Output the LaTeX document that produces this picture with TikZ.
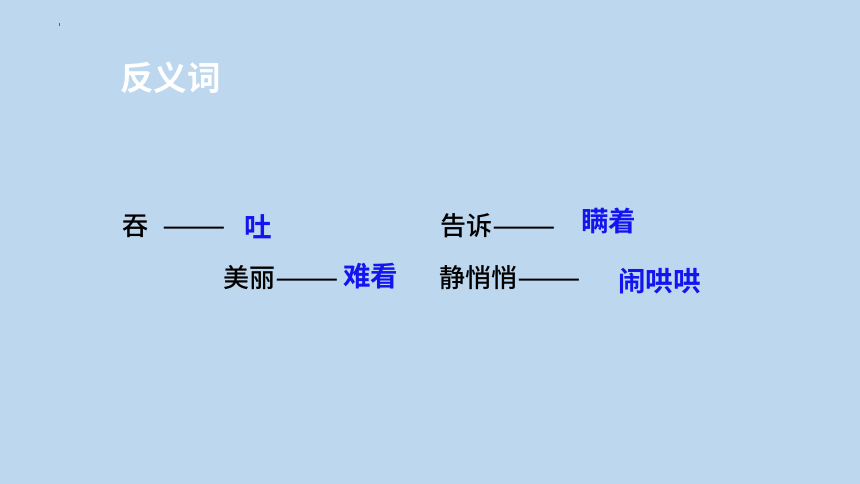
\documentclass[tikz,border=0pt]{standalone}
\usepackage{fontspec}
\newfontfamily\cjk{Noto Sans CJK SC}[BoldFont={Noto Sans CJK SC Bold}]
\newfontfamily\cjkm{Noto Sans CJK SC Medium}
\definecolor{bg}{HTML}{BDD7EE}
\definecolor{ans}{RGB}{20,20,240}
\newcommand{\ldash}{\scalebox{1.45}[1]{——}}
\begin{document}
\begin{tikzpicture}[x=1pt,y=-1pt,
  title/.style={anchor=west,inner sep=0pt,text=white,font=\cjk\bfseries\fontsize{33.5}{38}\selectfont},
  word/.style={anchor=west,inner sep=0pt,text=black,font=\cjkm\fontsize{26}{30}\selectfont},
  answer/.style={anchor=west,inner sep=0pt,text=ans,font=\cjk\bfseries\fontsize{27.5}{32}\selectfont}]
\fill[bg] (0,0) rectangle (860,484);
\useasboundingbox (0,0) rectangle (860,484);
\fill[gray!70!blue] (59,23) rectangle (59.8,26);
\node[title] (t) at (120,78) {反义词};
\node[word] (w1) at (122,226) {吞\hspace{14pt}\ldash};
\node[answer] (a1) at (244,227) {吐};
\node[word] (w2) at (223,278) {美丽\ldash};
\node[answer] (a2) at (343,276) {难看};
\node[word] (w3) at (440,226) {告诉\ldash};
\node[answer] (a3) at (581,221) {瞒着};
\node[word] (w4) at (439,278) {静悄悄\ldash};
\node[answer] (a4) at (618,281) {闹哄哄};
\end{tikzpicture}
\end{document}
